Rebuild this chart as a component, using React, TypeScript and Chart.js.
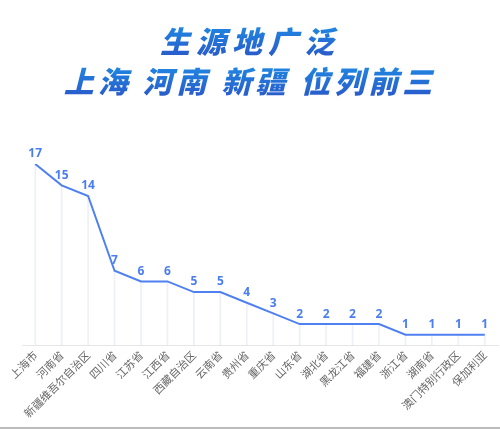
import React, { useEffect, useRef } from "react";
import { Chart, registerables } from "chart.js";

Chart.register(...registerables);

const categories = [
  "上海市", "河南省", "新疆维吾尔自治区", "四川省", "江苏省", "江西省", "西藏自治区", "云南省",
  "贵州省", "重庆省", "山东省", "湖北省", "黑龙江省", "福建省", "浙江省", "湖南省",
  "澳门特别行政区", "保加利亚",
];
const values = [17, 15, 14, 7, 6, 6, 5, 5, 4, 3, 2, 2, 2, 2, 1, 1, 1, 1];
const titleLine1 = "生源地广泛";
const titleLine2 = "上海 河南 新疆 位列前三";

const valueLabels = {
  id: "valueLabels",
  afterDatasetsDraw(chart: any) {
    const ctx = chart.ctx;
    const meta = chart.getDatasetMeta(1);
    ctx.save();
    ctx.font = "bold 12px 'Open Sans', 'Noto Sans', sans-serif";
    ctx.fillStyle = "#4a7ef0";
    ctx.textAlign = "center";
    ctx.textBaseline = "bottom";
    meta.data.forEach((pt: any, i: number) => {
      ctx.fillText(String(values[i]), pt.x, pt.y - 4);
    });
    ctx.restore();
  },
};

export default function App() {
  const ref = useRef<HTMLCanvasElement>(null);
  useEffect(() => {
    document.body.style.margin = "0";
    const chart = new Chart(ref.current!, {
      type: "bar",
      data: {
        labels: categories,
        datasets: [
          {
            type: "bar",
            data: values,
            backgroundColor: "rgba(210,218,235,0.4)",
            barThickness: 1,
            order: 2,
          } as any,
          {
            type: "line",
            data: values,
            borderColor: "#4f80f2",
            borderWidth: 2,
            pointRadius: 0,
            tension: 0,
            fill: false,
            order: 1,
          } as any,
        ],
      },
      options: {
        animation: false,
        responsive: false,
        layout: { padding: { top: 164, left: 22, right: 2, bottom: 4 } },
        plugins: { legend: { display: false }, tooltip: { enabled: false }, title: { display: false } },
        scales: {
          x: {
            offset: true,
            grid: { display: false, drawTicks: false },
            border: { display: true, color: "#e6e6e6", width: 1 },
            ticks: {
              color: "#666",
              font: { size: 11, family: "'Noto Sans CJK SC', sans-serif" },
              minRotation: 45,
              maxRotation: 45,
              autoSkip: false,
              padding: 3,
            },
          },
          y: { display: false, min: 0, max: 17 },
        },
      },
      plugins: [valueLabels],
    });
    return () => chart.destroy();
  }, []);

  const titleStyle: React.CSSProperties = {
    fontFamily: "'Noto Sans CJK SC', sans-serif",
    fontWeight: 900,
    fontStyle: "italic",
    fontSize: 30,
    background: "linear-gradient(180deg, #1e8fe6 0%, #2a56c8 100%)",
    WebkitBackgroundClip: "text",
    backgroundClip: "text",
    color: "transparent",
    textAlign: "center",
    whiteSpace: "pre",
    lineHeight: "40px",
  };

  return (
    <div style={{ position: "relative", width: 500, height: 429, background: "#fff", borderBottom: "2px solid #bbb", boxSizing: "border-box" }}>
      <canvas ref={ref} width={500} height={427} style={{ position: "absolute", left: 0, top: 0 }} />
      <div style={{ position: "absolute", left: 0, top: 20, width: 500 }}>
        <div style={{ ...titleStyle, letterSpacing: 6 }}>{titleLine1}</div>
        <div style={{ ...titleStyle, letterSpacing: 4 }}>{titleLine2}</div>
      </div>
    </div>
  );
}
